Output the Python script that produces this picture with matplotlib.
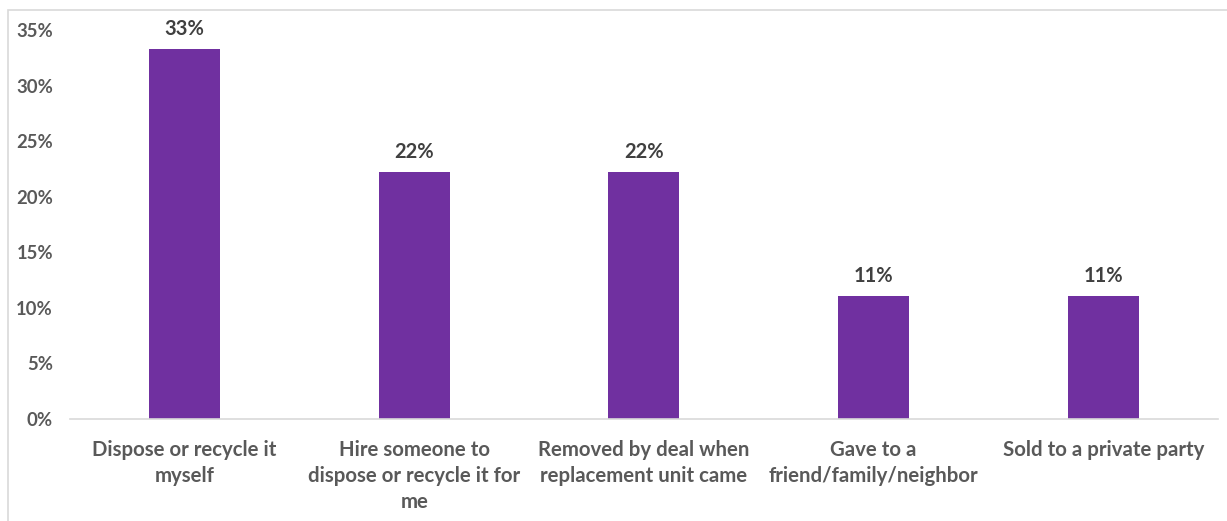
import matplotlib
matplotlib.use("Agg")
import matplotlib.pyplot as plt
from matplotlib.patches import Rectangle
from matplotlib.ticker import FuncFormatter

# Share of respondents by what happened to the old unit
categories = [
    "Dispose or recycle it\nmyself",
    "Hire someone to\ndispose or recycle it for\nme",
    "Removed by deal when\nreplacement unit came",
    "Gave to a\nfriend/family/neighbor",
    "Sold to a private party",
]
shares = [33.3, 22.2, 22.2, 11.1, 11.1]
yticks = [0, 5, 10, 15, 20, 25, 30, 35]

bar_color = "#7030A0"
text_grey = "#595959"

plt.rcParams["font.family"] = ["Lato", "DejaVu Sans"]

fig = plt.figure(figsize=(12.27, 5.21), dpi=100)
ax = fig.add_axes([0.0568, 0.1958, 0.9359, 0.7466])

x = range(len(categories))
bars = ax.bar(x, shares, width=0.31, color=bar_color, zorder=2)

for b, v in zip(bars, shares):
    ax.text(b.get_x() + b.get_width() / 2, v + 0.9, f"{v:.0f}%",
            ha="center", va="bottom", fontsize=14.5, fontweight="bold",
            color="#404040")

ax.set_xlim(-0.5, len(categories) - 0.5)
ax.set_ylim(0, 35)
ax.set_yticks(yticks)
ax.yaxis.set_major_formatter(FuncFormatter(lambda v, p: f"{v:.0f}%"))
ax.set_xticks(list(x))
ax.set_xticklabels(categories, fontsize=14.7, fontweight="bold",
                   color=text_grey, linespacing=1.38)

for lbl in ax.get_yticklabels():
    lbl.set_fontsize(13.3)
    lbl.set_fontweight("bold")
    lbl.set_color(text_grey)

ax.tick_params(axis="both", length=0)
ax.tick_params(axis="y", pad=12)
ax.tick_params(axis="x", pad=15)

for s in ["top", "right", "left"]:
    ax.spines[s].set_visible(False)
ax.spines["bottom"].set_color("#d9d9d9")
ax.spines["bottom"].set_linewidth(1.2)

# thin frame around the chart area (open at right/bottom edge)
fig.patches.append(Rectangle((8 / 1227, -0.1), 1.2, (511 / 521) + 0.1,
                             transform=fig.transFigure, fill=False,
                             edgecolor="#d9d9d9", linewidth=1.2))

fig.savefig("out.png", dpi=100)
